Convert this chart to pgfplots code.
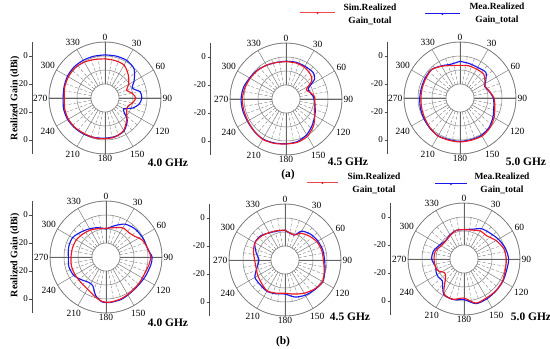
\documentclass[border=0pt]{standalone}
\usepackage{pgfplots}
\usepackage{pgfplotstable}
\usepackage{fontspec}
\setmainfont{Liberation Serif}
\pgfplotsset{compat=1.18}
\usepgfplotslibrary{polar}
\definecolor{simred}{RGB}{235,25,35}
\definecolor{meablue}{RGB}{25,25,235}
\definecolor{gridgray}{RGB}{125,125,125}

% angle (deg, clockwise from top), Sim, Mea (dBi)
\pgfplotstableread{
ang sim mea
0 -2.0 0.8
15 -2.3 1.0
30 -2.8 1.0
45 -6.5 -0.6
60 -10.5 -6.0
70 -13.6 -9.3
80 -10.3 -4.5
90 -8.0 -3.7
100 -10.0 -5.2
110 -12.7 -9.0
120 -12.2 -14.6
127 -10.5 -12.7
135 -8.0 -7.5
150 -3.3 -2.8
165 -1.3 -1.6
180 -0.9 -1.3
195 -0.6 -0.8
210 -0.6 -0.1
225 0.0 0.4
240 0.3 0.8
255 -0.2 0.6
270 -0.9 -0.1
285 -0.2 0.3
300 0.3 1.0
315 0.4 1.3
330 -0.4 1.1
345 -1.5 0.9
360 -2.0 0.8
}\dataAa
\pgfplotstableread{
ang sim mea
0 -3.3 -3.0
15 -3.3 -2.8
30 -3.8 -3.0
45 -5.2 -2.9
55 -7.5 -5.0
65 -14.0 -12.5
75 -12.0 -12.0
85 -9.5 -10.5
90 -9.3 -10.0
100 -9.3 -9.0
115 -7.6 -7.0
125 -5.0 -5.5
135 -2.4 -3.5
150 0.7 -0.5
165 2.0 1.5
180 2.1 2.0
195 2.8 2.5
210 3.3 3.0
225 2.2 2.4
240 1.4 1.8
255 1.2 2.0
270 1.2 2.1
285 0.5 1.5
300 -0.5 0.0
315 -1.2 -1.0
330 -2.1 -2.2
345 -3.0 -3.0
360 -3.3 -3.0
}\dataAb
\pgfplotstableread{
ang sim mea
0 -6.7 -3.8
15 -6.2 -4.5
30 -6.2 -4.8
45 -6.0 -4.0
55 -8.3 -7.5
65 -10.2 -10.5
75 -8.8 -9.0
90 -5.7 -6.2
105 -4.3 -5.0
120 -1.9 -2.8
135 0.2 -0.5
150 1.4 0.8
165 1.2 0.8
180 1.4 1.0
195 1.2 0.8
210 1.4 1.2
225 0.2 0.5
240 -1.0 -0.3
255 -1.7 -0.8
270 -2.1 -1.2
285 -2.1 -1.5
300 -1.9 -1.3
315 -1.4 -1.2
330 -3.8 -3.5
345 -6.0 -5.0
360 -6.7 -3.8
}\dataAc
\pgfplotstableread{
ang sim mea
0 -9.5 -10.0
15 -8.3 -6.9
30 -6.0 -2.9
45 -6.0 -1.2
55 -4.5 -0.8
65 -1.4 -0.3
80 0.7 0.5
90 1.9 2.9
100 1.2 2.5
115 0.0 1.4
130 0.2 0.7
145 0.7 1.0
160 1.7 2.2
175 2.4 2.6
185 1.9 2.2
195 -0.5 -1.5
205 -2.8 -7.5
215 -4.0 -8.0
225 -4.5 -6.5
240 -4.5 -3.5
255 -4.5 -2.6
270 -5.0 -3.1
285 -5.2 -2.4
300 -5.5 -2.4
315 -6.7 -4.8
330 -7.8 -6.7
345 -9.0 -8.3
360 -9.5 -10.0
}\dataBa
\pgfplotstableread{
ang sim mea
0 -8.6 -8.8
20 -11.0 -11.0
30 -7.9 -6.2
45 -5.7 -4.0
60 -3.8 -2.9
75 -2.9 -2.1
90 -2.6 -1.7
105 -1.0 -0.5
120 1.0 1.2
135 -0.5 0.0
150 -2.6 -1.0
165 -4.8 -2.6
180 -6.2 -5.7
195 -5.5 -5.0
210 -4.5 -4.2
225 -6.4 -5.0
240 -7.6 -5.2
255 -8.6 -9.3
270 -8.3 -11.4
285 -6.7 -8.6
300 -5.2 -5.2
315 -6.0 -5.5
330 -7.4 -7.6
345 -8.3 -8.6
360 -8.6 -8.8
}\dataBb
\pgfplotstableread{
ang sim mea
0 -9.0 -9.0
15 -8.6 -8.0
30 -6.9 -5.0
45 -6.7 -3.8
60 -3.6 -1.7
75 -0.7 0.5
90 0.2 1.9
105 0.5 1.5
120 1.7 2.0
135 2.1 2.3
150 2.1 2.8
165 2.6 3.0
180 -2.1 -1.0
195 -0.2 0.0
210 -1.4 -1.0
225 -11.4 -8.0
235 -13.0 -7.5
245 -9.8 -8.0
255 -8.8 -9.0
270 -8.6 -6.9
285 -8.8 -7.5
300 -11.2 -10.0
315 -11.7 -11.5
330 -10.5 -10.0
345 -8.8 -8.8
360 -9.0 -9.0
}\dataBc

\pgfplotsset{
  mypolar/.style={
    scale only axis, width=112bp, height=112bp,
    ymin=0, ymax=40, ytick={10,20,30,40},
    yticklabel style={text opacity=0, opacity=0},
    xmin=0, xmax=360,
    xtick={0,30,...,330},
    xticklabel={\pgfmathtruncatemacro\ang{mod(450-\tick,360)}\ang},
    xticklabel style={font=\fontsize{9.5}{10}\selectfont, inner sep=1.5pt},
    grid=major,
    major grid style={gridgray, line width=0.5pt},
    axis line style={gridgray, line width=0.6pt},
    tick style={draw=none},
  },
  curve/.style={line width=1.15pt, smooth, tension=0.45, no markers,
    x filter/.expression={mod(450-x,360)}, y filter/.expression={y+30}},
  scaleaxis/.style={
    scale only axis, width=1bp, height=112bp, anchor=west,
    xmin=0, xmax=1, ymin=-40, ymax=40,
    hide x axis, axis y line*=left,
    axis line style={black!70, line width=0.5pt, -},
    ytick={-30,-10,10,30}, yticklabels={0,-20,-20,0},
    yticklabel style={font=\fontsize{9}{10}\selectfont, inner sep=1.5pt},
    major tick length=2.5bp, tick align=outside, ytick style={black!70},
  },
}
\newcommand\panel[4]{%
  \begin{axis}[scaleaxis, at={(#3bp,#2bp)}]
    \addplot[draw=none] coordinates {(0,0)};
  \end{axis}
  \begin{polaraxis}[mypolar, at={(#1bp,#2bp)}, anchor=center]
    \fill[white] (axis cs:0,0) circle[radius=14bp];
    \pgfplotsinvokeforeach{10,20,40,50,70,80,100,110,130,140,160,170,190,200,220,230,250,260,280,290,310,320,340,350}{%
      \draw[gridgray, densely dashed, line width=0.4pt] (axis cs:##1,10) -- (axis cs:##1,30);}
    \pgfplotsinvokeforeach{0,90,180,270}{%
      \draw[gridgray!80!black, line width=0.8pt] (axis cs:##1,10) -- (axis cs:##1,40);}
    \draw[gridgray, line width=0.5pt] (axis cs:0,0) circle[radius=14bp];
    \addplot[curve, meablue] table[x=ang, y=mea] {#4};
    \addplot[curve, simred] table[x=ang, y=sim] {#4};
  \end{polaraxis}
}

\begin{document}
\begin{tikzpicture}
\useasboundingbox (0,0) rectangle (550bp,349bp);
% row (a)
\panel{105}{251}{32}{\dataAa}
\panel{286}{250}{210}{\dataAb}
\panel{460}{251}{387}{\dataAc}
% row (b)
\panel{106}{92}{32}{\dataBa}
\panel{285}{89}{209}{\dataBb}
\panel{464}{90}{390}{\dataBc}

\tikzset{lab/.style={font=\fontsize{11.5}{12}\selectfont\bfseries, inner sep=0pt}}
\node[lab] at (168bp,186bp) {4.0 GHz};
\node[lab] at (348bp,187bp) {4.5 GHz};
\node[lab] at (526bp,187bp) {5.0 GHz};
\node[lab] at (168bp,26bp) {4.0 GHz};
\node[lab] at (350bp,32bp) {4.5 GHz};
\node[lab] at (531bp,32bp) {5.0 GHz};
\node[lab] at (288bp,174bp) {(a)};
\node[lab] at (283bp,7bp) {(b)};

\tikzset{ylab/.style={font=\fontsize{10}{11}\selectfont\bfseries, inner sep=0pt, rotate=90}}
\node[ylab] at (15bp,251bp) {Realized Gain (dBi)};
\node[ylab] at (15bp,94bp) {Realized Gain (dBi)};

% legends
\tikzset{leg/.style={font=\fontsize{9.5}{13}\selectfont\bfseries, align=center, inner sep=0pt}}
\draw[simred!80, line width=1pt] (300bp,336bp) -- (335bp,336bp);
\fill[simred] (317.5bp,336bp) circle[radius=1.2bp];
\node[leg] at (370bp,335bp) {Sim.Realized\\Gain\_total};
\draw[meablue, line width=1pt] (425bp,335bp) -- (460bp,335bp);
\fill[meablue] (442.5bp,335bp) circle[radius=1.2bp];
\node[leg] at (497bp,336bp) {Mea.Realized\\Gain\_total};

\draw[simred!80, line width=1pt] (307bp,166bp) -- (338bp,166bp);
\fill[simred] (322.5bp,166bp) circle[radius=1.2bp];
\node[leg] at (374bp,166bp) {Sim.Realized\\Gain\_total};
\draw[meablue, line width=1pt] (435bp,165bp) -- (467bp,165bp);
\fill[meablue] (451bp,165bp) circle[radius=1.2bp];
\node[leg] at (502bp,166bp) {Mea.Realized\\Gain\_total};
\end{tikzpicture}
\end{document}
